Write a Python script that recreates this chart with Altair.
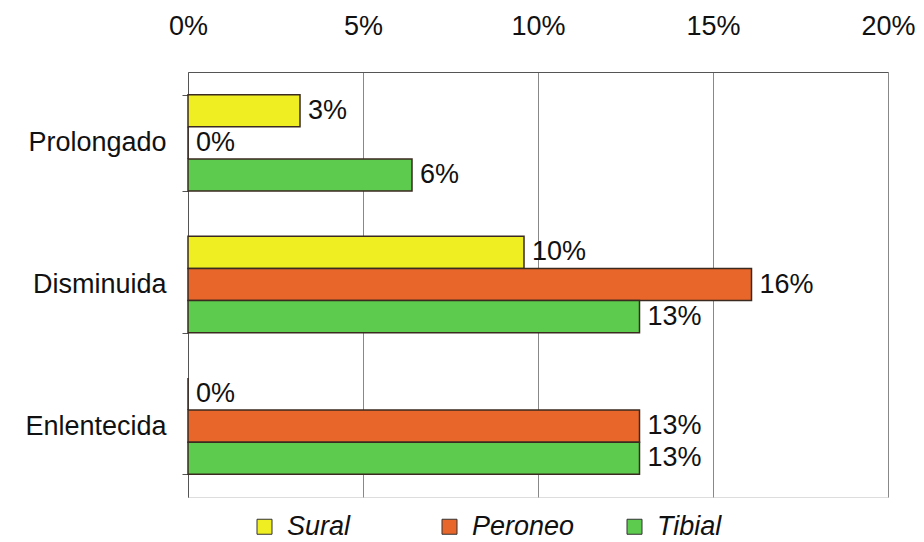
import altair as alt
import pandas as pd

categories = ["Prolongado", "Disminuida", "Enlentecida"]
series = ["Sural", "Peroneo", "Tibial"]
sural = [3.2, 9.6, 0.0]
peroneo = [0.0, 16.1, 12.9]
tibial = [6.4, 12.9, 12.9]
x_ticks = [0, 5, 10, 15, 20]
colors = ["#EEEE22", "#E8662A", "#5CCB4E"]

rows = []
for i, c in enumerate(categories):
    for s, vals in zip(series, [sural, peroneo, tibial]):
        rows.append({"cat": c, "serie": s, "val": vals[i]})
df = pd.DataFrame(rows)

FONT = "Liberation Sans"
FS = 27

base = alt.Chart(df).encode(
    y=alt.Y("cat:N", sort=categories, title=None,
            scale=alt.Scale(paddingInner=0.32, paddingOuter=0.16),
            axis=alt.Axis(labelFontSize=FS, labelFont=FONT, labelColor="#111",
                          tickBand="extent", tickSize=6, tickColor="#555",
                          domain=True, domainColor="#555", labelPadding=16)),
    yOffset=alt.YOffset("serie:N", sort=series, scale=alt.Scale(domain=series, paddingInner=0, paddingOuter=0)),
)

bars = base.mark_bar(stroke="#3a2a20", strokeWidth=1.5).encode(
    x=alt.X("val:Q", title=None,
            scale=alt.Scale(domain=[0, 20], nice=False),
            axis=alt.Axis(orient="top", values=x_ticks, labelExpr="datum.value + '%'",
                          labelFontSize=FS, labelFont=FONT, labelColor="#111",
                          labelFlush=False,
                          grid=True, gridColor="#888", gridWidth=1,
                          ticks=False, domain=True, domainColor="#555",
                          labelPadding=32)),
    color=alt.Color("serie:N", sort=series,
                    scale=alt.Scale(domain=series, range=colors),
                    legend=alt.Legend(title=None, orient="none", legendX=63, legendY=441,
                                      direction="horizontal", columns=3, gridAlign="all",
                                      columnPadding=46, symbolType="square", symbolSize=225,
                                      symbolStrokeColor="#333", symbolStrokeWidth=1,
                                      labelFontSize=FS, labelFont=FONT, labelFontStyle="italic",
                                      labelColor="#111", labelOffset=9)),
)

labels = base.mark_text(align="left", baseline="middle", dx=8, fontSize=FS, font=FONT, color="#111").transform_calculate(
    lbl="format(datum.val, '.0f') + '%'"
).encode(
    x=alt.X("val:Q"),
    text="lbl:N",
)

chart = (bars + labels).properties(
    width=700, height=425,
    autosize=alt.AutoSizeParams(type="none"),
    padding={"left": 188, "top": 72, "right": 36, "bottom": 45},
).configure_view(stroke="#555", strokeWidth=1).configure(background="white")

chart.save("out.html", embed_options={"renderer": "svg", "actions": False})
